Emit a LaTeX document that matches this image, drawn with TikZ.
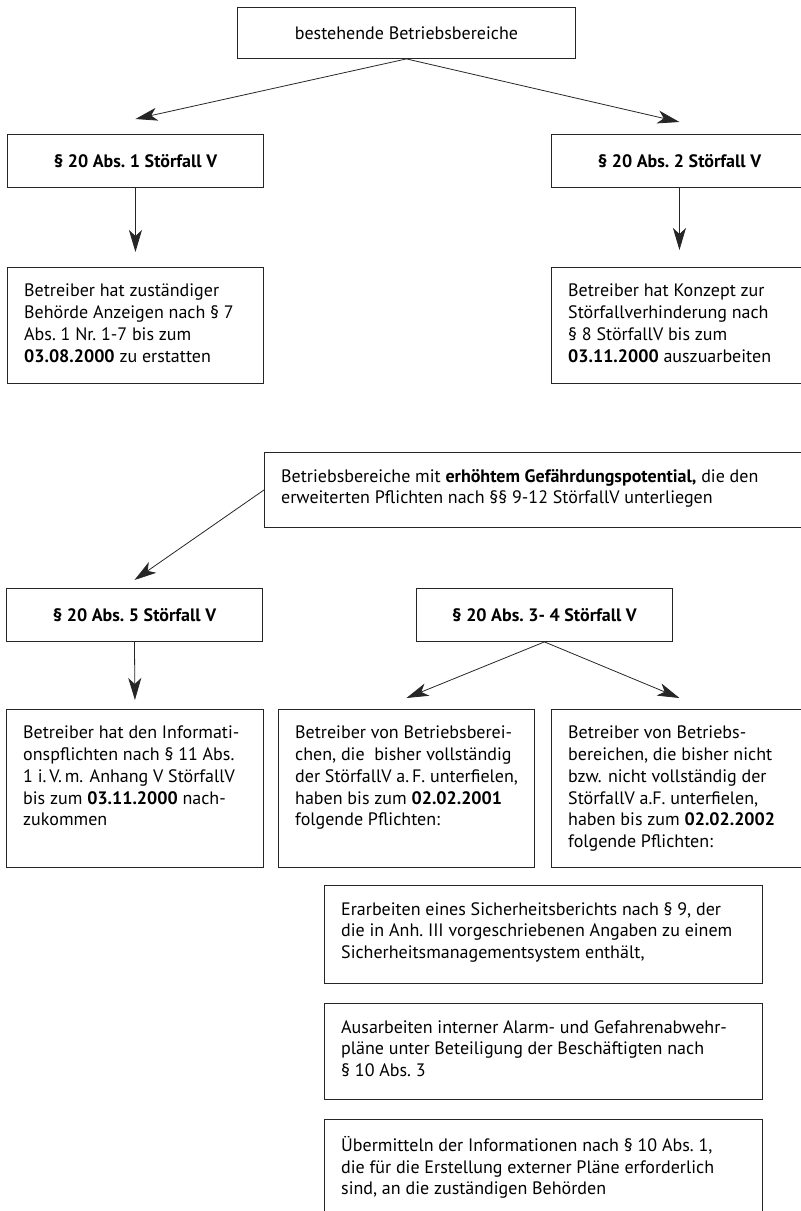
\documentclass[tikz,border=0pt]{standalone}
\usepackage{fontspec}
\setmainfont{PT Sans}
\usetikzlibrary{arrows.meta}
\newcommand{\fliesstext}{\fontsize{18}{21.7}\selectfont}
\tikzstyle{kasten}=[draw=black!85, line width=0.9pt, rectangle, inner sep=0pt]
\tikzstyle{kastentext}=[anchor=north west, align=left, inner sep=0pt, font=\fliesstext]
\tikzstyle{pfeil}=[draw=black!85, line width=0.8pt, -{Stealth[length=22pt,width=13pt,inset=6pt]}]
\newcommand{\kopfkasten}[4]{% Syntax: {name}{x}{y}{text} -- box with bold centered title
  \node[kasten, minimum width=256pt, minimum height=53pt, anchor=north west, font=\fliesstext\bfseries] (#1) at (#2,#3) {#4};
}
\newcommand{\textkasten}[6]{% Syntax: {name}{x}{y}{width}{height}{text}
  \node[kasten, minimum width=#4, minimum height=#5, anchor=north west] (#1) at (#2,#3) {};
  \node[kastentext] (#1-text) at ([xshift=17pt,yshift=-17pt]#1.north west) {#6};
}

\begin{document}
\begin{tikzpicture}[x=1pt,y=-1pt]
  \useasboundingbox (0,0) rectangle (801,1211);
  % top level
  \node[kasten, minimum width=338pt, minimum height=51pt, anchor=north west, font=\fliesstext] (bestand) at (237,7) {bestehende Betriebsbereiche};
  \kopfkasten{abs1}{7}{134}{\S~20 Abs.~1 Störfall V}
  \kopfkasten{abs2}{551}{134}{\S~20 Abs.~2 Störfall V}
  \textkasten{anzeige}{7}{267}{256pt}{116pt}{Betreiber hat zuständiger\\Behörde Anzeigen nach \S~7\\Abs.~1 Nr.~1-7 bis zum\\\textbf{03.08.2000} zu erstatten}
  \textkasten{konzept}{551}{267}{256pt}{116pt}{Betreiber hat Konzept zur\\Störfallverhinderung nach\\\S~8 StörfallV bis zum\\\textbf{03.11.2000} auszuarbeiten}
  \draw[pfeil] (bestand.south) -- ([yshift=15pt]abs1.north);
  \draw[pfeil] (bestand.south) -- ([yshift=12pt]abs2.north);
  \draw[pfeil] (abs1.south) -- ([yshift=15pt]anzeige.north);
  \draw[pfeil] (abs2.south) -- ([yshift=17pt]konzept.north);
  % erhoehtes Gefaehrdungspotential
  \textkasten{erhoeht}{264}{452}{560pt}{75pt}{Betriebsbereiche mit \textbf{erhöhtem Gefährdungspotential,} die den\\erweiterten Pflichten nach \S\S~9-12 StörfallV unterliegen}
  \kopfkasten{abs5}{6}{588}{\S~20 Abs.~5 Störfall V}
  \kopfkasten{abs34}{416}{588}{\S~20 Abs.~3-~4 Störfall V}
  \textkasten{info}{6}{709}{257pt}{158pt}{Betreiber hat den Informati-\\onspflichten nach \S~11 Abs.\\1 i.\,V.\,m. Anhang V StörfallV\\bis zum \textbf{03.11.2000} nach-\\zukommen}
  \textkasten{frist1}{278}{709}{256pt}{158pt}{Betreiber von Betriebsberei-\\chen, die~ bisher vollständig\\der StörfallV a.\,F. unterfielen,\\haben bis zum \textbf{02.02.2001}\\folgende Pflichten:}
  \textkasten{frist2}{551}{709}{256pt}{158pt}{Betreiber von Betriebs-\\bereichen, die bisher nicht\\bzw. nicht vollständig der\\StörfallV a.F. unterfielen,\\haben bis zum \textbf{02.02.2002}\\folgende Pflichten:}
  \draw[pfeil] (erhoeht.west) -- ([yshift=8pt]abs5.north);
  \draw[pfeil] (abs5.south) -- ([yshift=9pt]info.north);
  \draw[pfeil] (abs34.south) -- ([yshift=11pt]frist1.north);
  \draw[pfeil] (abs34.south) -- ([yshift=11pt]frist2.north);
  % Pflichten
  \textkasten{bericht}{324}{885}{438pt}{98pt}{Erarbeiten eines Sicherheitsberichts nach \S~9, der\\die in Anh.~III vorgeschriebenen Angaben zu einem\\Sicherheitsmanagementsystem enthält,}
  \textkasten{alarm}{324}{1003}{438pt}{96pt}{Ausarbeiten interner Alarm- und Gefahrenabwehr-\\pläne unter Beteiligung der Beschäftigten nach\\\S~10 Abs.~3}
  \textkasten{uebermittlung}{324}{1119}{438pt}{98pt}{Übermitteln der Informationen nach \S~10 Abs.~1,\\die für die Erstellung externer Pläne erforderlich\\sind, an die zuständigen Behörden}
\end{tikzpicture}
\end{document}
